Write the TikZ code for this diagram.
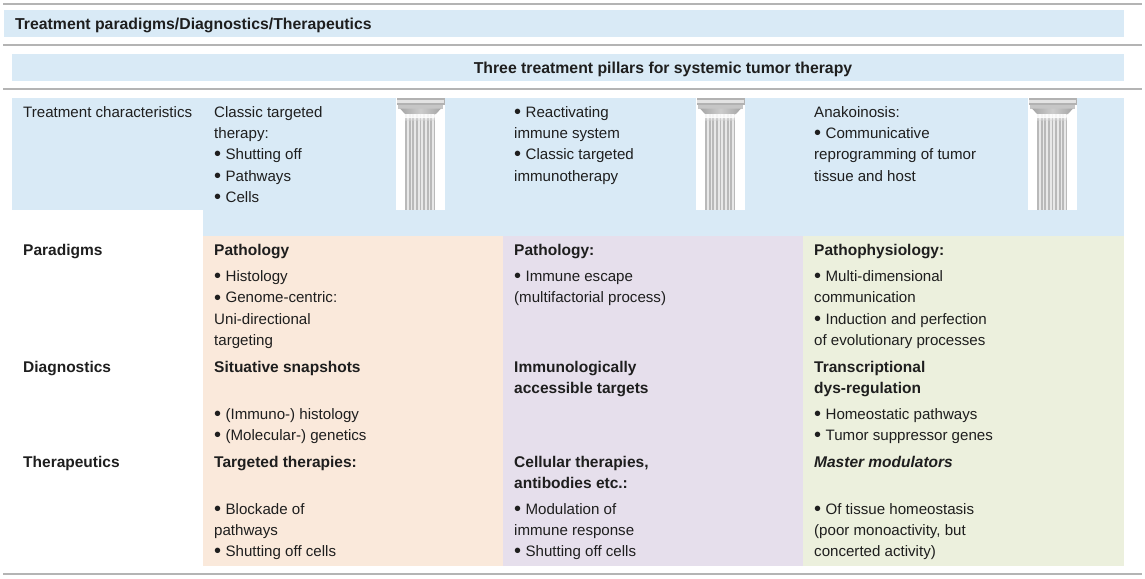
\documentclass[tikz,border=0pt]{standalone}
\usepackage{fontspec}
\setmainfont{Liberation Sans}
\definecolor{blueband}{HTML}{D9EAF6}
\definecolor{orangeband}{HTML}{FAE9DB}
\definecolor{purpleband}{HTML}{E6DFEC}
\definecolor{greenband}{HTML}{ECF0DD}
\definecolor{rulegrey}{HTML}{B4B4B4}
\definecolor{txt}{HTML}{1E1E1E}
\newcommand{\bu}{{\fontsize{20}{21.3}\selectfont\raisebox{-1.2pt}{•}}\kern4.4pt}
\tikzset{
  x=1pt,y=-1pt,
  cell/.style={anchor=north west,inner sep=0pt,align=left,text=txt,font=\fontsize{15.1}{21.3}\selectfont},
  head/.style={cell,font=\fontsize{15.5}{21.3}\selectfont\bfseries},
  tophead/.style={cell,font=\fontsize{15.8}{21.3}\selectfont\bfseries},
  rulel/.style={draw=rulegrey,line width=1.6pt},
  pics/pillar/.style={code={
    \fill[white] (0,0) rectangle (49,112);
    \fill[gray!60] (0.5,0) rectangle (48.5,7);
    \fill[gray!22] (1,2) rectangle (48,4.5);
    \fill[gray!45] (2,7) rectangle (47,10.5);
    \shade[left color=gray!70,right color=gray!70,middle color=gray!40] (4,10.5) -- (45,10.5) -- (40,16) -- (9,16) -- cycle;
    \fill[gray!55] (9,16) rectangle (38.5,112);
    \foreach \i in {0,...,7} {\fill[gray!18] ({11+3.6*\i},16) rectangle ({12.8+3.6*\i},112);}
    \shade[top color=white,bottom color=white,opacity=0.85,middle color=white] (9,16) rectangle (38.5,19);
    \shade[top color=white,bottom color=gray!30,opacity=0.4] (9,19) rectangle (38.5,22);
  }}
}
\begin{document}
\begin{tikzpicture}
\useasboundingbox (0,0) rectangle (1145,578);
% bands
\fill[blueband] (4,10) rectangle (1124,37);
\fill[blueband] (12,54) rectangle (1124,81);
\fill[blueband] (12,98) rectangle (1124,210);
\fill[blueband] (203,210) rectangle (1124,236);
\fill[orangeband] (203,236) rectangle (503,566);
\fill[purpleband] (503,236) rectangle (803,566);
\fill[greenband] (803,236) rectangle (1124,566);
% rules
\coordinate (r1a) at (3,4); \coordinate (r1b) at (1142,4);
\coordinate (r2a) at (3,45); \coordinate (r2b) at (1142,45);
\coordinate (r3a) at (3,89); \coordinate (r3b) at (1142,89);
\coordinate (r4a) at (3,574); \coordinate (r4b) at (1142,574);
\draw[rulel] (r1a)--(r1b); \draw[rulel] (r2a)--(r2b); \draw[rulel] (r3a)--(r3b); \draw[rulel] (r4a)--(r4b);
% pillars
\pic at (396,98) {pillar};
\pic at (696,98) {pillar};
\pic at (1028,98) {pillar};
% headers
\node[tophead] (title) at (15,18) {Treatment paradigms/Diagnostics/Therapeutics};
\node[tophead,anchor=north] (pillars) at (663,62) {Three treatment pillars for systemic tumor therapy};
% row labels
\node[cell] (tc) at (23,106) {Treatment characteristics};
\node[head] (par) at (23,244) {Paradigms};
\node[head] (dia) at (23,361) {Diagnostics};
\node[head] (the) at (23,456) {Therapeutics};
% characteristics
\node[cell] (c1) at (214,106) {Classic targeted\\therapy:\\\bu Shutting off\\\bu Pathways\\\bu Cells};
\node[cell] (c2) at (514,106) {\bu Reactivating\\immune system\\\bu Classic targeted\\immunotherapy};
\node[cell] (c3) at (814,106) {Anakoinosis:\\\bu Communicative\\reprogramming of tumor\\tissue and host};
% paradigms
\node[head] (p1h) at (214,244) {Pathology};
\node[cell] (p1) at (214,270.5) {\bu Histology\\\bu Genome-centric:\\Uni-directional\\targeting};
\node[head] (p2h) at (514,244) {Pathology:};
\node[cell] (p2) at (514,270.5) {\bu Immune escape\\(multifactorial process)};
\node[head] (p3h) at (814,244) {Pathophysiology:};
\node[cell] (p3) at (814,270.5) {\bu Multi-dimensional\\communication\\\bu Induction and perfection\\of evolutionary processes};
% diagnostics
\node[head] (d1h) at (214,361) {Situative snapshots};
\node[cell] (d1) at (214,408) {\bu (Immuno-) histology\\\bu (Molecular-) genetics};
\node[head] (d2h) at (514,361) {Immunologically\\accessible targets};
\node[head] (d3h) at (814,361) {Transcriptional\\dys-regulation};
\node[cell] (d3) at (814,408) {\bu Homeostatic pathways\\\bu Tumor suppressor genes};
% therapeutics
\node[head] (t1h) at (214,456) {Targeted therapies:};
\node[cell] (t1) at (214,503) {\bu Blockade of\\pathways\\\bu Shutting off cells};
\node[head] (t2h) at (514,456) {Cellular therapies,\\antibodies etc.:};
\node[cell] (t2) at (514,503) {\bu Modulation of\\immune response\\\bu Shutting off cells};
\node[head,font=\fontsize{15.5}{21.3}\selectfont\bfseries\itshape] (t3h) at (814,456) {Master modulators};
\node[cell] (t3) at (814,503) {\bu Of tissue homeostasis\\(poor monoactivity, but\\concerted activity)};
\end{tikzpicture}
\end{document}
